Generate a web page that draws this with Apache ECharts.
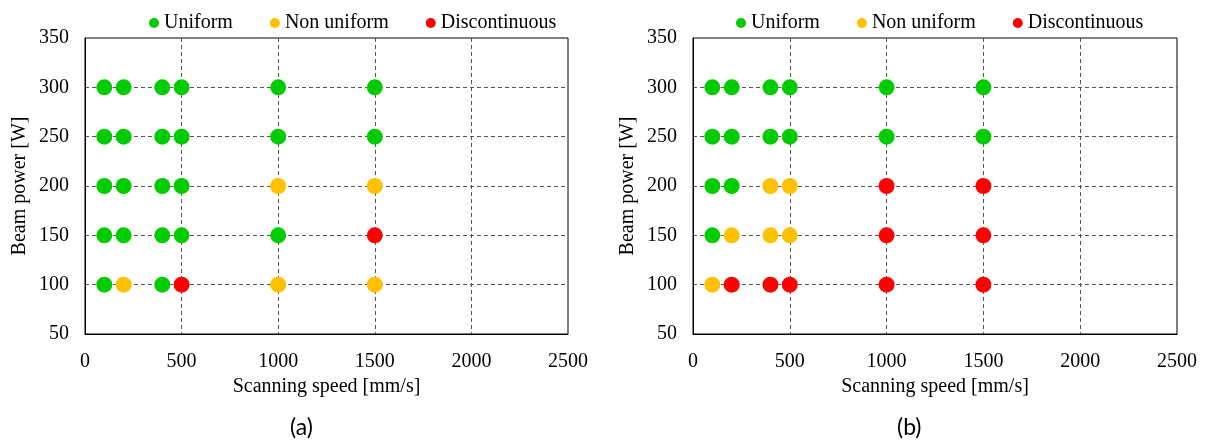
<!DOCTYPE html>
<html>
<head>
<meta charset="utf-8">
<script src="https://cdn.jsdelivr.net/npm/echarts@6/dist/echarts.min.js"></script>
<style>
html,body{margin:0;padding:0;background:#fff;}
#c{width:1205px;height:444px;}
</style>
</head>
<body>
<div id="c"></div>
<script>
// Categories / names
const seriesNames = ['Uniform', 'Non uniform', 'Discontinuous'];
const panelLabels = ['(a)', '(b)'];
const xTicks = [0, 500, 1000, 1500, 2000, 2500];
const yTicks = [50, 100, 150, 200, 250, 300, 350];

// Panel (a): [scanning speed mm/s, beam power W]
const aUniform = [
  [100,300],[100,250],[100,200],[100,150],[100,100],
  [200,300],[200,250],[200,200],[200,150],
  [400,300],[400,250],[400,200],[400,150],[400,100],
  [500,300],[500,250],[500,200],[500,150],
  [1000,300],[1000,250],[1000,150],
  [1500,300],[1500,250]
];
const aNonUniform = [[200,100],[1000,200],[1000,100],[1500,200],[1500,100]];
const aDiscontinuous = [[500,100],[1500,150]];

// Panel (b)
const bUniform = [
  [100,300],[100,250],[100,200],[100,150],
  [200,300],[200,250],[200,200],
  [400,300],[400,250],
  [500,300],[500,250],
  [1000,300],[1000,250],
  [1500,300],[1500,250]
];
const bNonUniform = [[100,100],[200,150],[400,200],[400,150],[500,200],[500,150]];
const bDiscontinuous = [
  [200,100],[400,100],[500,100],
  [1000,200],[1000,150],[1000,100],
  [1500,200],[1500,150],[1500,100]
];

const colors = ['#00CC00', '#FFC000', '#FF0000'];
const serif = "'Liberation Serif','Times New Roman',serif";

const panels = [
  {data:[aUniform, aNonUniform, aDiscontinuous], left:85, width:483, legendLeft:144, labelX:303},
  {data:[bUniform, bNonUniform, bDiscontinuous], left:693, width:484, legendLeft:731, labelX:910}
];

const grids = [], xAxes = [], yAxes = [], series = [], legends = [], graphics = [];
const dash = {color:'#555', width:1, type:[4,3]};

panels.forEach((p, i) => {
  grids.push({left:p.left, width:p.width, top:38, height:296, show:true, borderColor:'#000', borderWidth:1, containLabel:false});
  xAxes.push({
    type:'value', gridIndex:i, min:xTicks[0], max:xTicks[xTicks.length-1], interval:500,
    name:'Scanning speed [mm/s]', nameLocation:'middle', nameGap:36,
    nameTextStyle:{fontFamily:serif, fontSize:20, color:'#000'},
    axisLine:{show:true, lineStyle:{color:'#000', width:1}}, axisTick:{show:false},
    axisLabel:{fontFamily:serif, fontSize:20, color:'#000', margin:18, formatter:v => String(v)},
    splitLine:{show:true, lineStyle:dash, showMinLine:false, showMaxLine:false}
  });
  yAxes.push({
    type:'value', gridIndex:i, min:yTicks[0], max:yTicks[yTicks.length-1], interval:50,
    name:'Beam power [W]', nameLocation:'middle', nameGap:55,
    nameTextStyle:{fontFamily:serif, fontSize:20, color:'#000'},
    axisLine:{show:true, lineStyle:{color:'#000', width:1}}, axisTick:{show:false},
    axisLabel:{fontFamily:serif, fontSize:20, color:'#000', margin:16, formatter:v => String(v)},
    splitLine:{show:true, lineStyle:dash, showMinLine:false, showMaxLine:false}
  });
  p.data.forEach((d, k) => {
    series.push({
      name:seriesNames[k], type:'scatter', xAxisIndex:i, yAxisIndex:i,
      data:d, symbol:'circle', symbolSize:16, itemStyle:{color:colors[k], opacity:1}, z:5
    });
  });
  legends.push({
    left:p.legendLeft, top:8, orient:'horizontal', icon:'circle', itemWidth:10, itemHeight:10,
    itemGap:37, data:seriesNames,
    textStyle:{fontFamily:serif, fontSize:20, color:'#000'}
  });
  graphics.push({
    type:'text', left:p.labelX - 13, top:416,
    style:{text:panelLabels[i], font:"23px 'Lato','Open Sans',sans-serif", fill:'#000'}
  });
});

const chart = echarts.init(document.getElementById('c'), null, {renderer:'canvas'});
chart.setOption({
  animation:false,
  backgroundColor:'#fff',
  grid:grids, xAxis:xAxes, yAxis:yAxes, series:series, legend:legends, graphic:graphics
});
</script>
</body>
</html>
